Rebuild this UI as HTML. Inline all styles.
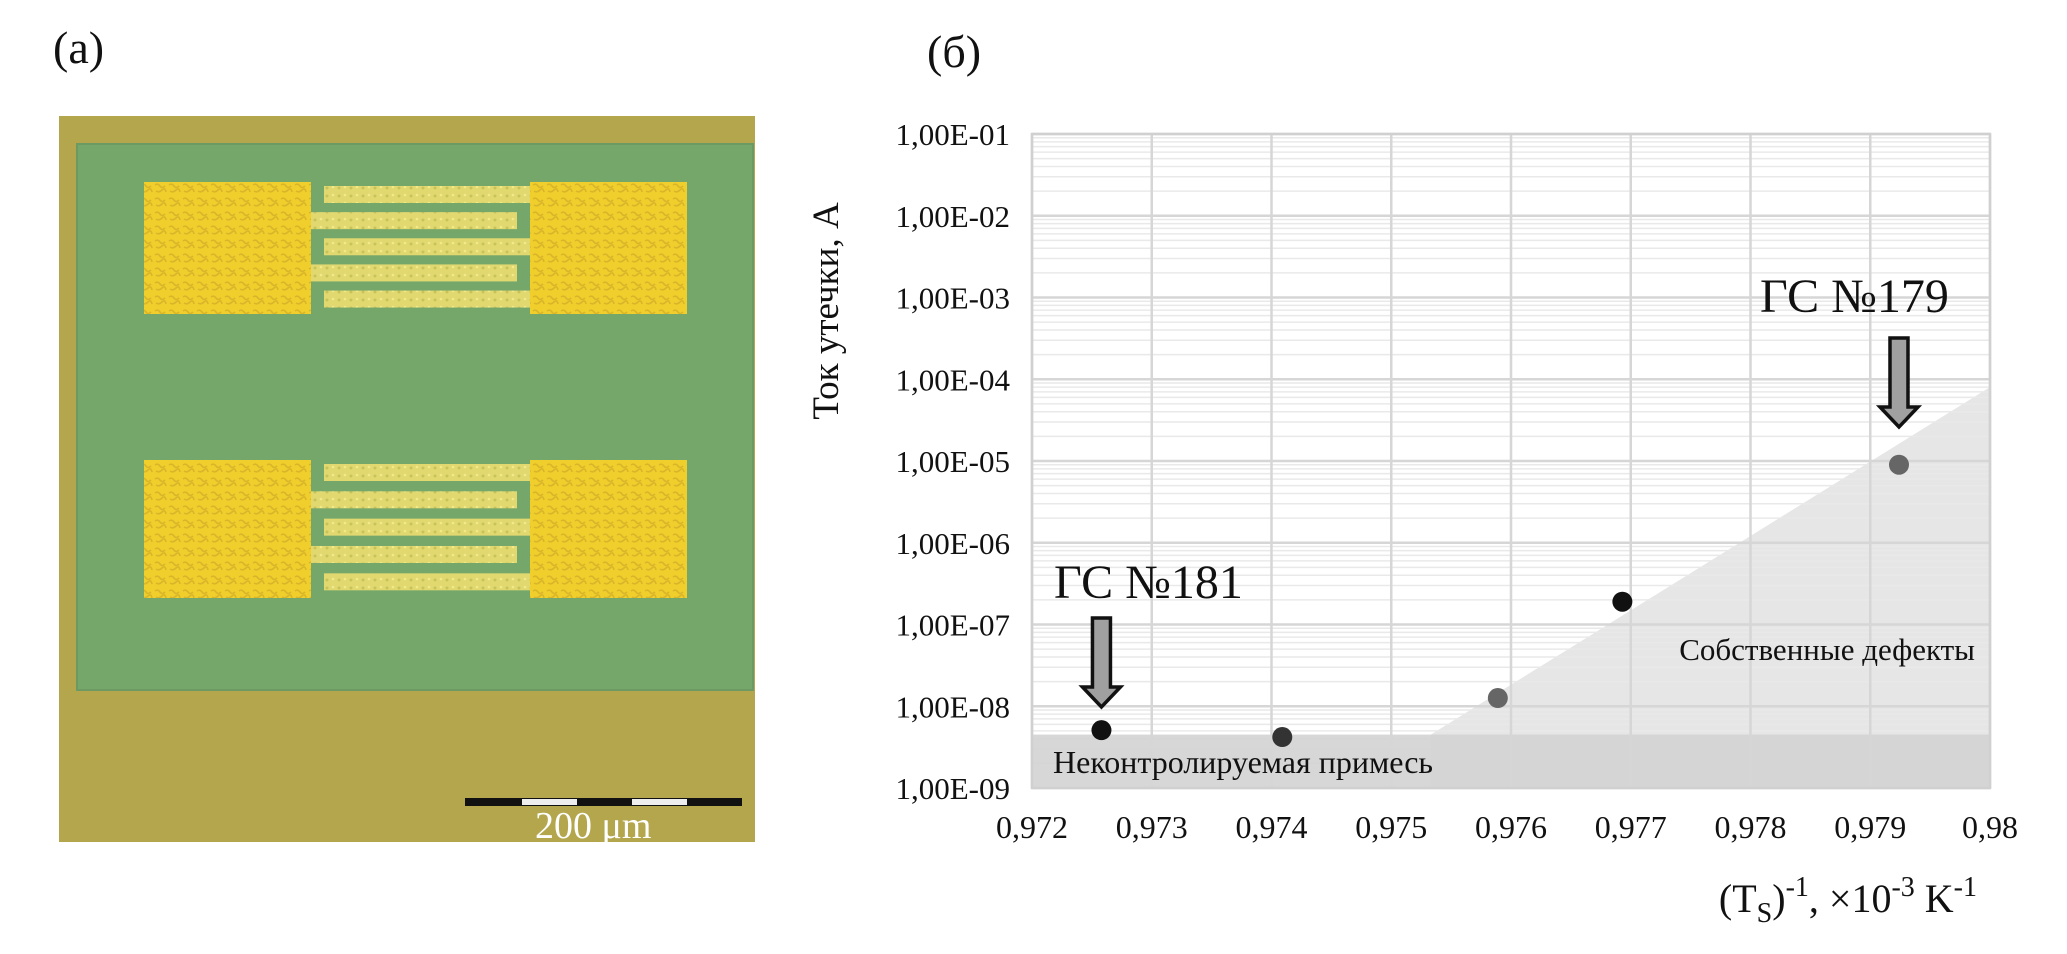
<!DOCTYPE html>
<html><head><meta charset="utf-8">
<style>
html,body{margin:0;padding:0;background:#fff;}
svg{display:block;}
text{font-family:"Liberation Serif","Noto Serif CJK SC",serif;fill:#111;}
</style></head>
<body>
<svg id="fig" width="2067" height="954" viewBox="0 0 2067 954" xmlns="http://www.w3.org/2000/svg">
  <defs>
    <pattern id="speck" width="14" height="14" patternUnits="userSpaceOnUse">
      <rect width="14" height="14" fill="#f0cf2c"/>
      <path d="M1 3 q3 -2 5 1 t5 0 M2 9 q3 2 6 -1 t4 2" stroke="#d9b52a" stroke-width="1.6" fill="none"/>
    </pattern>
    <pattern id="speckf" width="12" height="8" patternUnits="userSpaceOnUse">
      <rect width="12" height="8" fill="#e2d870"/>
      <circle cx="3" cy="4" r="1.5" fill="#c7c35a"/><circle cx="9" cy="3" r="1.3" fill="#f1e98a"/>
    </pattern>
  </defs>
  <text x="53" y="63" font-size="46">(а)</text>
  <g>
    <rect x="59" y="116" width="696" height="726" fill="#b3a64c"/>
    <rect x="77" y="144" width="676" height="546" fill="#75a66a" stroke="#6c9a62" stroke-width="2"/>
    <g id="photoPads"></g>
    <g>
      <rect x="465" y="798" width="277" height="8" fill="#111"/>
      <rect x="522" y="799" width="55" height="6" fill="#eee"/>
      <rect x="632" y="799" width="55" height="6" fill="#eee"/>
      <text x="535" y="838" font-size="38" fill="#fff" style="fill:#fff">200 μm</text>
    </g>
  </g>
  <text x="927" y="67" font-size="46">(б)</text>
  <g id="chart"></g>
</svg>
<script>
const NS='http://www.w3.org/2000/svg';
function mk(tag,attrs,parent){const e=document.createElementNS(NS,tag);for(const k in attrs)e.setAttribute(k,attrs[k]);parent.appendChild(e);return e;}

const pg=document.getElementById('photoPads');
[[182,314],[460,598]].forEach(([y0,y1],i)=>{
  let a=mk('rect',{x:144,y:y0,width:167,height:y1-y0,fill:'url(#speck)'},pg);
  
  
  let b=mk('rect',{x:530,y:y0,width:157,height:y1-y0,fill:'url(#speck)'},pg);
  
  
  const h=(y1-y0);
  for(let k=0;k<5;k++){
    const yy=y0+4+k*h/5.05;
    const left=(k%2===1);
    let f=mk('rect',{x:left?311:324,y:yy,width:206,height:17,fill:'url(#speckf)'},pg);
    
    
  }
});

const xTicks=[0.972,0.973,0.974,0.975,0.976,0.977,0.978,0.979,0.98];
const xTickLabels=['0,972','0,973','0,974','0,975','0,976','0,977','0,978','0,979','0,98'];
const yDecades=[-1,-2,-3,-4,-5,-6,-7,-8,-9];
const yTickLabels=['1,00E-01','1,00E-02','1,00E-03','1,00E-04','1,00E-05','1,00E-06','1,00E-07','1,00E-08','1,00E-09'];
const pointX=[0.97258,0.97409,0.97589,0.97693,0.97924];
const pointY=[5.1e-9,4.2e-9,1.26e-8,1.9e-7,9e-6];
const pointColor=['#111','#333','#666','#111','#666'];
const bandTopY=4.5e-9;
const slopeStartX=0.97533;
const slopeEndY=8e-5;

const L=1032,R=1990,T=134,B=788;
const xMin=0.972,xMax=0.98,yMinE=-9,yMaxE=-1;
const sx=v=>L+(v-xMin)/(xMax-xMin)*(R-L);
const sy=v=>T+(yMaxE-Math.log10(v))/(yMaxE-yMinE)*(B-T);

const c=document.getElementById('chart');
let bg=mk('rect',{x:L,y:T,width:R-L,height:B-T,fill:'#fff'},c);



let tri=mk('polygon',{points:`${sx(slopeStartX)},${sy(bandTopY)} ${R},${sy(slopeEndY)} ${R},${B} ${sx(slopeStartX)},${B}`,fill:'#e6e6e6'},c);



for(let d=yMaxE;d>yMinE;d--){
  for(let m=2;m<=9;m++){
    const v=m*Math.pow(10,d-1);
    let g=mk('line',{x1:L,x2:R,y1:sy(v),y2:sy(v),stroke:'#e9e9e9','stroke-width':1.5},c);
    
    
  }
}
let band=mk('rect',{x:L,y:sy(bandTopY),width:R-L,height:B-sy(bandTopY),fill:'#d3d3d3',opacity:0.9},c);


yDecades.forEach((d,i)=>{
  const y=sy(Math.pow(10,d));
  let g=mk('line',{x1:L,x2:R,y1:y,y2:y,stroke:'#d6d6d6','stroke-width':2.5},c);
  
  
  let t=mk('text',{x:1010,y:y+11,'font-size':31,'text-anchor':'end'},c);
  t.textContent=yTickLabels[i];
  
  
});
xTicks.forEach((v,i)=>{
  const x=sx(v);
  let g=mk('line',{x1:x,x2:x,y1:T,y2:B,stroke:'#d6d6d6','stroke-width':2.5},c);
  
  
  let t=mk('text',{x:x,y:838,'font-size':32,'text-anchor':'middle'},c);
  t.textContent=xTickLabels[i];
  
  
});
let fr=mk('rect',{x:L,y:T,width:R-L,height:B-T,fill:'none',stroke:'#d0d0d0','stroke-width':2.5},c);



pointX.forEach((v,i)=>{
  let p=mk('circle',{cx:sx(v),cy:sy(pointY[i]),r:10,fill:pointColor[i]},c);
  
  
});

function arrow(cx,y0,yHead,y1,name){
  const g=mk('polygon',{points:`${cx-9},${y0} ${cx+9},${y0} ${cx+9},${yHead} ${cx+19},${yHead} ${cx},${y1} ${cx-19},${yHead} ${cx-9},${yHead}`,fill:'#a0a0a0',stroke:'#111','stroke-width':3.5},c);
  
  
}
arrow(sx(pointX[0]),618,687,707,'arrow-gs181');
arrow(sx(pointX[4]),338,407,427,'arrow-gs179');

function txt(x,y,s,str,name,anchor){
  const t=mk('text',{x:x,y:y,'font-size':s,'text-anchor':anchor||'start'},c);
  t.textContent=str;
  
  
  return t;
}
txt(1054,598,48,'ГС №181','label-gs181');
txt(1760,312,48,'ГС №179','label-gs179');
txt(1975,660,31,'Собственные дефекты','label-intrinsic-defects','end');
txt(1053,773,32,'Неконтролируемая примесь','label-uncontrolled-impurity');

let yt=mk('text',{x:0,y:0,'font-size':37,'text-anchor':'middle',transform:'translate(838,311) rotate(-90)'},c);
yt.textContent='Ток утечки, А';



let xt=mk('text',{x:1977,y:912,'font-size':40,'text-anchor':'end'},c);
xt.innerHTML='(T<tspan font-size="28" dy="10">S</tspan><tspan dy="-10">)</tspan><tspan font-size="28" dy="-16">-1</tspan><tspan dy="16">, ×10</tspan><tspan font-size="28" dy="-16">-3</tspan><tspan dy="16"> K</tspan><tspan font-size="28" dy="-16">-1</tspan>';


</script>
</body></html>
